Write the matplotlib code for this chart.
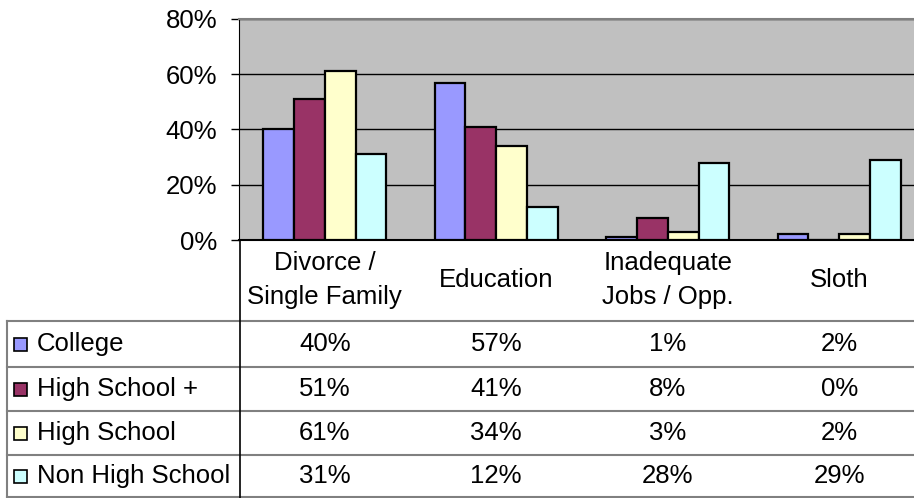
import matplotlib
matplotlib.use('Agg')
import matplotlib.pyplot as plt
import matplotlib.transforms as mtransforms
from matplotlib.lines import Line2D
from matplotlib.patches import Rectangle
from matplotlib.ticker import FuncFormatter
import numpy as np

categories = ['Divorce /\nSingle Family', 'Education', 'Inadequate\nJobs / Opp.', 'Sloth']
series_names = ['College', 'High School +', 'High School', 'Non High School']
college = [40, 57, 1, 2]
high_school_plus = [51, 41, 8, 0]
high_school = [61, 34, 3, 2]
non_high_school = [31, 12, 28, 29]
colors = ['#9999FF', '#993366', '#FFFFCC', '#CCFFFF']

series = [college, high_school_plus, high_school, non_high_school]

plt.rcParams['font.family'] = ['Liberation Sans', 'DejaVu Sans']
plt.rcParams['font.size'] = 18.5

W, H = 914, 498
fig = plt.figure(figsize=(W / 100, H / 100), dpi=100)


def fy(y):
    # pixel row (from top) -> figure fraction
    return 1 - y / H


# plot area runs past the right edge of the figure, as in the Excel export
ax = fig.add_axes([239 / W, fy(240), 686 / W, 221 / H])
ax.set_facecolor('#C0C0C0')

x = np.arange(len(categories))
width = 0.18
for k, (vals, name, c) in enumerate(zip(series, series_names, colors)):
    ax.bar(x + (k - 1.5) * width, vals, width, color=c, edgecolor='black',
           linewidth=1.6, label=name, zorder=3)

ax.set_xlim(-0.5, 3.5)
ax.set_ylim(0, 80)
ax.set_yticks(range(0, 81, 20))
ax.yaxis.set_major_formatter(FuncFormatter(lambda v, _: f'{v:.0f}%'))
ax.set_xticks([])
ax.tick_params(axis='y', direction='out', length=5.8, width=1, pad=10, labelsize=18.5)
ax.grid(axis='y', color='black', linewidth=1)
ax.set_axisbelow(True)
ax.spines['top'].set_color('#808080')
ax.spines['top'].set_linewidth(1.5)
ax.spines['right'].set_visible(False)
ax.spines['left'].set_color('black')
ax.spines['bottom'].set_color('black')
ax.spines['bottom'].set_linewidth(1.5)

# data table under the chart
blend = mtransforms.blended_transform_factory(ax.transData, fig.transFigure)
for i, cat in enumerate(categories):
    ax.text(i, fy(280), cat, transform=blend, ha='center', va='center',
            linespacing=1.55, clip_on=False)

row_lines = [320.7, 366.7, 410.7, 455, 496.8]
for y in row_lines:
    fig.add_artist(Line2D([7 / W, 1], [fy(y), fy(y)], color='#808080', linewidth=1.5))
fig.add_artist(Line2D([7 / W, 7 / W], [fy(row_lines[0]), fy(row_lines[-1])],
                      color='#808080', linewidth=1.5))
fig.add_artist(Line2D([239.5 / W, 239.5 / W], [fy(240), 0], color='black', linewidth=1.2))

for r, (vals, name, c) in enumerate(zip(series, series_names, colors)):
    yc = (row_lines[r] + row_lines[r + 1]) / 2
    fig.add_artist(Rectangle((14 / W, fy(yc + 7)), 13 / W, 13 / H,
                             facecolor=c, edgecolor='black', linewidth=1.2,
                             transform=fig.transFigure))
    fig.text(37 / W, fy(yc), name, ha='left', va='center')
    for i, v in enumerate(vals):
        ax.text(i, fy(yc), f'{v}%', transform=blend, ha='center', va='center',
                clip_on=False)

fig.savefig('out.png', dpi=100)
